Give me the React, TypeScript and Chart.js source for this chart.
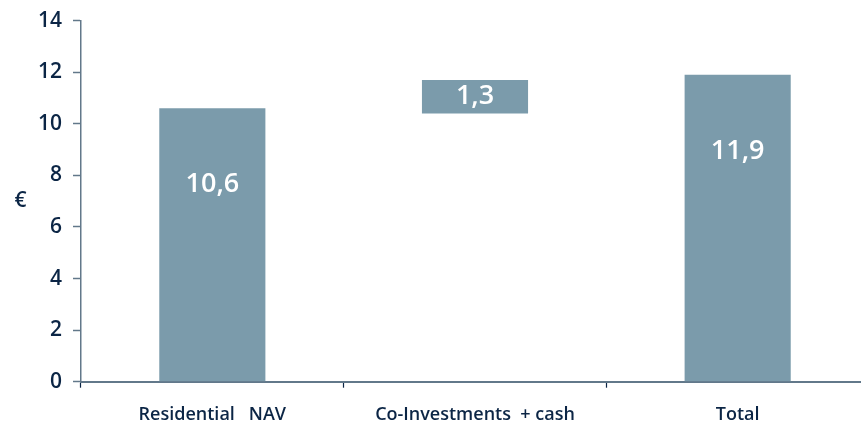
import React, { useEffect, useRef } from "react";
import { Chart, registerables } from "chart.js";

Chart.register(...registerables);

const categories = ["Residential   NAV", "Co-Investments  + cash", "Total"];
const barStarts = [0, 10.4, 0];
const barEnds = [10.6, 11.7, 11.9];
const barValues = [10.6, 1.3, 11.9];
const yTicks = [0, 2, 4, 6, 8, 10, 12, 14];
const yUnit = "€";

const FONT = "'Open Sans', 'Noto Sans', sans-serif";
const NAVY = "#0b2545";
const BAR = "#7b9bab";
const AXIS = "#62788a";

export default function App() {
  const ref = useRef<HTMLCanvasElement | null>(null);

  useEffect(() => {
    if (!ref.current) return;
    const valueLabels = {
      id: "valueLabels",
      afterDatasetsDraw(chart: any) {
        const ctx = chart.ctx;
        const meta = chart.getDatasetMeta(0);
        const yScale = chart.scales.y;
        ctx.save();
        ctx.fillStyle = "#ffffff";
        ctx.font = `600 27px ${FONT}`;
        ctx.textAlign = "center";
        ctx.textBaseline = "middle";
        meta.data.forEach((el: any, i: number) => {
          let y: number;
          if (barStarts[i] === 0) {
            y = yScale.getPixelForValue(barEnds[i] - 2.95);
          } else {
            y = (yScale.getPixelForValue(barStarts[i]) + yScale.getPixelForValue(barEnds[i])) / 2;
          }
          ctx.fillText(barValues[i].toFixed(1).replace(".", ","), el.x, y);
        });
        ctx.restore();
      },
    };
    const unitTitle = {
      id: "unitTitle",
      afterDraw(chart: any) {
        const ctx = chart.ctx;
        const yScale = chart.scales.y;
        ctx.save();
        ctx.fillStyle = NAVY;
        ctx.font = `600 21px ${FONT}`;
        ctx.textAlign = "center";
        ctx.textBaseline = "middle";
        ctx.fillText(yUnit, 20.5, yScale.getPixelForValue(7.0) - 0.5);
        ctx.restore();
      },
    };

    const chart = new Chart(ref.current, {
      type: "bar",
      data: {
        labels: categories,
        datasets: [
          {
            data: barStarts.map((s, i) => [s, barEnds[i]]) as any,
            backgroundColor: BAR,
            borderWidth: 0,
            barPercentage: 0.404,
            categoryPercentage: 1,
          },
        ],
      },
      options: {
        responsive: false,
        animation: false,
        devicePixelRatio: 1,
        layout: { padding: { top: 20.7, right: 0, left: 0, bottom: 0 } },
        plugins: {
          legend: { display: false },
          tooltip: { enabled: false },
        },
        scales: {
          x: {
            offset: true,
            grid: {
              offset: true,
              drawOnChartArea: false,
              drawTicks: true,
              tickLength: 6,
              tickColor: NAVY,
              tickWidth: 1.2,
            },
            border: { display: true, color: AXIS, width: 2 },
            ticks: {
              color: NAVY,
              font: { family: FONT, size: 18, weight: 600 as any },
              padding: 16,
              maxRotation: 0,
              autoSkip: false,
            },
            afterFit(scale: any) {
              scale.height = 43.3;
              scale.paddingLeft = 0;
              scale.paddingRight = 0;
            },
          },
          y: {
            min: 0,
            max: 14,
            afterBuildTicks(scale: any) {
              scale.ticks = yTicks.map((v) => ({ value: v }));
            },
            grid: {
              drawOnChartArea: false,
              drawTicks: true,
              tickLength: 8,
              tickColor: AXIS,
              tickWidth: 1.5,
            },
            border: { display: true, color: AXIS, width: 1.5 },
            ticks: {
              color: NAVY,
              font: { family: FONT, size: 21, weight: 600 as any },
              padding: 11,
            },
            afterFit(scale: any) {
              scale.width = 81;
              scale.paddingTop = 0;
              scale.paddingBottom = 0;
            },
          },
        },
      },
      plugins: [valueLabels, unitTitle],
    });
    return () => chart.destroy();
  }, []);

  return (
    <div
      style={{
        position: "absolute",
        left: 0,
        top: 0,
        width: 861,
        height: 425,
        overflow: "hidden",
        background: "#ffffff",
      }}
    >
      <canvas ref={ref} width={869} height={425} style={{ display: "block" }} />
    </div>
  );
}
